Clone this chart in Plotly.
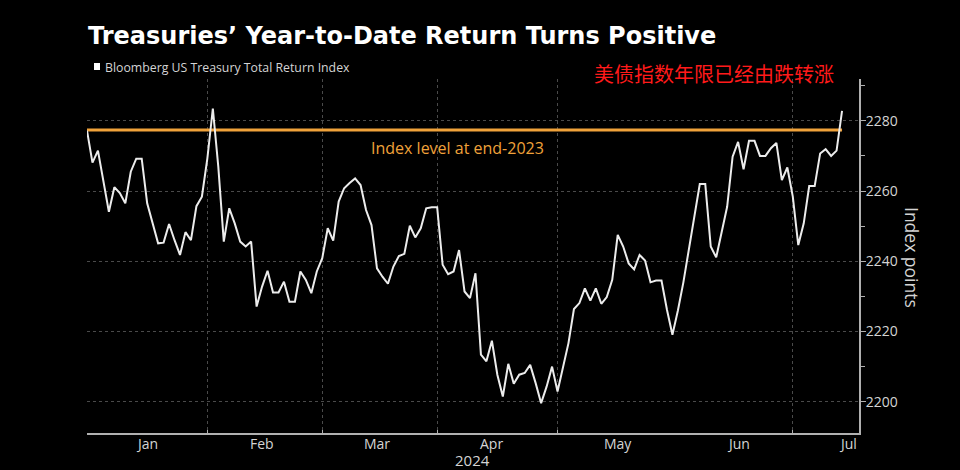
import pandas as pd
import plotly.graph_objects as go

# ---- data ----
start_date = "2024-01-02"
index_values = [
    2277.2, 2268.1, 2271.5, 2262.5, 2254.1, 2261.1, 2259.4, 2256.5, 2265.5, 2269.2,
    2269.2, 2256.5, 2250.8, 2245.1, 2245.3, 2250.6, 2246.0, 2241.8, 2248.3, 2246.0,
    2255.7, 2258.4, 2269.3, 2283.5, 2266.9, 2245.6, 2255.1, 2250.8, 2245.6, 2244.2,
    2245.6, 2227.1, 2232.8, 2237.3, 2231.1, 2231.1, 2234.2, 2228.5, 2228.5, 2237.1,
    2234.7, 2230.9, 2237.1, 2240.9, 2249.4, 2245.9, 2257.0, 2260.8, 2262.3, 2263.6,
    2261.7, 2254.6, 2250.3, 2238.0, 2235.6, 2233.6, 2238.5, 2241.5, 2242.1, 2250.1,
    2246.8, 2249.4, 2255.1, 2255.4, 2255.4, 2239.0, 2236.3, 2237.1, 2243.2, 2231.4,
    2229.5, 2236.6, 2213.4, 2211.5, 2217.4, 2207.7, 2201.5, 2210.8, 2205.1, 2207.7,
    2208.2, 2210.5, 2205.3, 2199.6, 2204.3, 2210.0, 2202.9, 2209.6, 2216.7, 2226.4,
    2228.1, 2232.3, 2228.8, 2232.3, 2227.9, 2229.8, 2234.7, 2247.5, 2244.2, 2239.4,
    2237.7, 2241.8, 2240.2, 2234.0, 2234.5, 2234.5, 2226.2, 2219.1, 2226.0, 2234.0,
    2243.0, 2253.0, 2262.0, 2262.0, 2244.2, 2241.1, 2248.0, 2255.5, 2269.8, 2274.0,
    2266.2, 2274.3, 2274.3, 2270.0, 2270.0, 2272.2, 2273.7, 2263.1, 2266.7, 2258.4,
    2244.6, 2250.8, 2261.4, 2261.4, 2270.7, 2271.9, 2270.0, 2271.5, 2282.8,
]
end_2023_level = 2277.35
month_starts = ["2024-01-02", "2024-02-01", "2024-03-01", "2024-04-01",
                "2024-05-01", "2024-06-01", "2024-07-01"]
month_labels = ["Jan", "Feb", "Mar", "Apr", "May", "Jun", "Jul"]
month_label_pos = ["2024-01-17", "2024-02-15", "2024-03-15", "2024-04-15",
                   "2024-05-16", "2024-06-17", "2024-07-15"]
y_ticks = [2200, 2220, 2240, 2260, 2280]
x_range = ["2024-01-02", "2024-07-17 02:24"]
y_range = [2191.1, 2291.9]

dates = pd.bdate_range(start_date, periods=len(index_values))

title = "Treasuries’ Year-to-Date Return Turns Positive"
series_name = "Bloomberg US Treasury Total Return Index"
cn_note = "美债指数年限已经由跌转涨"
level_label = "Index level at end-2023"
y_title = "Index points"
year_label = "2024"

FONT = "Open Sans"
ORANGE = "#f0a23a"
GRID = "#4a4a4a"
AXIS = "#b0b0b0"
TXT = "#d4d4d4"

# plot area in pixels (for placing free text)
L, R, T, B = 87, 859, 79, 433


def px(x):
    return (x - L) / (R - L)


def py(y):
    return (B - y) / (B - T)


fig = go.Figure()
fig.add_trace(go.Scatter(
    x=[dates[0], dates[-1]], y=[end_2023_level, end_2023_level],
    mode="lines", line=dict(color=ORANGE, width=3), hoverinfo="skip",
    showlegend=False))
fig.add_trace(go.Scatter(
    x=dates, y=index_values, mode="lines",
    line=dict(color="#ececec", width=2), name=series_name, showlegend=False))

fig.update_layout(
    width=960, height=470,
    margin=dict(l=L, r=960 - R, t=T, b=470 - B),
    paper_bgcolor="black", plot_bgcolor="black",
    font=dict(family=FONT, color=TXT, size=14),
    title=dict(text=f"<b>{title}</b>", x=88 / 960, xanchor="left", xref="container",
               y=1 - 36 / 470, yanchor="middle", yref="container",
               font=dict(family="DejaVu Sans", size=24, color="white")),
)
fig.update_xaxes(
    type="date", range=x_range,
    rangebreaks=[dict(bounds=["sat", "mon"])],
    tickvals=month_starts, ticktext=[""] * len(month_starts),
    showgrid=True, gridcolor=GRID, griddash="dot", gridwidth=1,
    showline=True, linecolor=AXIS, linewidth=2,
    ticks="inside", ticklen=3, tickcolor=AXIS,
    zeroline=False,
)
fig.update_yaxes(
    range=y_range, side="right", tickvals=y_ticks,
    showgrid=True, gridcolor=GRID, griddash="dot", gridwidth=1,
    showline=True, linecolor=AXIS, linewidth=2,
    ticks="outside", ticklen=5, tickcolor=AXIS, ticklabelstandoff=-3,
    minor=dict(dtick=10, tick0=2190, ticks="outside", ticklen=4, tickcolor=AXIS, showgrid=False),
    tickfont=dict(size=14, color=TXT, family=FONT),
    zeroline=False,
)

ann = []
for lab, pos in zip(month_labels, month_label_pos):
    ann.append(dict(x=pos, y=0, xref="x", yref="paper", text=lab, showarrow=False,
                    xanchor="center", yanchor="middle", yshift=-10,
                    font=dict(size=14, color=TXT, family=FONT)))
ann.append(dict(x=px(472), y=py(460), xref="paper", yref="paper", text=year_label,
                showarrow=False, xanchor="center", yanchor="middle",
                font=dict(size=15, color=TXT, family=FONT)))
ann.append(dict(x=px(103), y=py(67), xref="paper", yref="paper", text=series_name,
                showarrow=False, xanchor="left", yanchor="middle",
                font=dict(size=12.3, color=TXT, family=FONT)))
ann.append(dict(x=px(714), y=py(73), xref="paper", yref="paper", text=cn_note,
                showarrow=False, xanchor="center", yanchor="middle",
                font=dict(size=20, color="#ff1a1a", family="Noto Sans CJK SC")))
ann.append(dict(x=px(457), y=py(148), xref="paper", yref="paper", text=level_label,
                showarrow=False, xanchor="center", yanchor="middle",
                font=dict(size=16, color=ORANGE, family=FONT)))
ann.append(dict(x=px(912), y=py(257), xref="paper", yref="paper", text=y_title,
                showarrow=False, xanchor="center", yanchor="middle", textangle=90,
                font=dict(size=17.5, color=TXT, family=FONT)))
fig.update_layout(annotations=ann)
fig.add_shape(type="rect", xref="paper", yref="paper",
              x0=px(94), x1=px(100), y0=py(70), y1=py(63),
              fillcolor="white", line=dict(width=0))
fig.write_html("out.html")
